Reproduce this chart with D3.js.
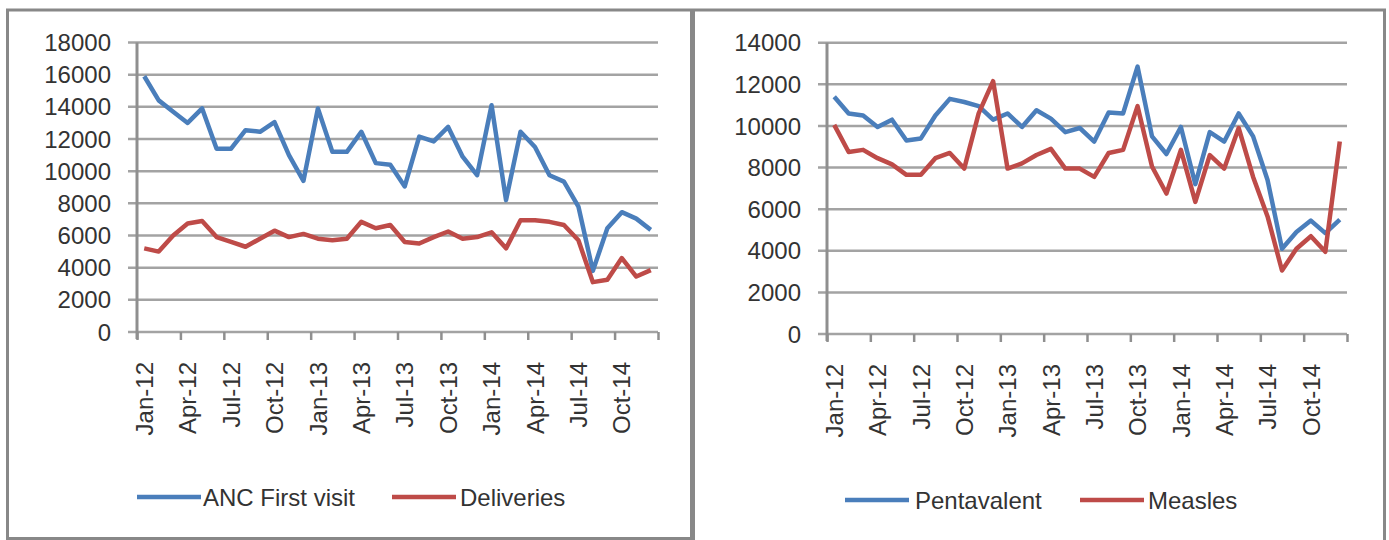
<!DOCTYPE html>
<html>
<head>
<meta charset="utf-8">
<script src="https://cdn.jsdelivr.net/npm/d3@7"></script>
<style>
  body { margin: 0; background: #fff; }
  svg { display: block; font-family: "Liberation Sans", Arial, sans-serif; }
  .grid line { stroke: #a3a3a3; stroke-width: 2.5; }
  .axis path, .axis line { stroke: #8f8f8f; stroke-width: 2.5; }
  .axis text { fill: #333; font-size: 24px; }
  .legend text { fill: #333; font-size: 24px; }
</style>
</head>
<body>
<svg width="1389" height="540"></svg>
<script>
  // months shown on both charts
  const months = ['Jan-12','Feb-12','Mar-12','Apr-12','May-12','Jun-12','Jul-12','Aug-12','Sep-12','Oct-12','Nov-12','Dec-12',
    'Jan-13','Feb-13','Mar-13','Apr-13','May-13','Jun-13','Jul-13','Aug-13','Sep-13','Oct-13','Nov-13','Dec-13',
    'Jan-14','Feb-14','Mar-14','Apr-14','May-14','Jun-14','Jul-14','Aug-14','Sep-14','Oct-14','Nov-14','Dec-14'];

  // left chart
  const ancFirstVisit = [15900,14400,13700,13000,13900,11400,11400,12550,12450,13050,11000,9400,
    13900,11200,11200,12450,10500,10400,9050,12150,11850,12750,10900,9750,
    14100,8200,12450,11500,9750,9350,7800,3800,6450,7450,7050,6350];
  const deliveries = [5200,5000,6000,6750,6900,5900,5600,5300,5800,6300,5900,6100,
    5800,5700,5800,6850,6450,6650,5600,5500,5900,6250,5800,5900,
    6200,5200,6950,6950,6850,6650,5700,3100,3250,4600,3450,3850];

  // right chart
  const pentavalent = [11400,10600,10500,9950,10300,9300,9400,10500,11300,11150,10950,10300,
    10600,9950,10750,10350,9700,9900,9250,10650,10600,12850,9500,8650,
    9950,7200,9700,9250,10600,9500,7400,4100,4900,5450,4850,5500];
  const measles = [10050,8750,8850,8450,8150,7650,7650,8450,8700,7950,10600,12150,
    7950,8200,8600,8900,7950,7950,7550,8700,8850,10950,8050,6750,
    8850,6350,8600,7950,9900,7550,5650,3050,4100,4700,3950,9250];

  const yTicks18 = [0,2000,4000,6000,8000,10000,12000,14000,16000,18000];
  const yTicks14 = [0,2000,4000,6000,8000,10000,12000,14000];

  const blue = '#4a7ebb';
  const red = '#be4b48';

  const svg = d3.select('svg');

  // panel frames
  svg.append('path')
    .attr('d', 'M7.5,540 V10 H1384.5 V540 M692.5,10 V540 M7.5,538.5 H692.5')
    .attr('fill', 'none')
    .attr('stroke', '#888')
    .attr('stroke-width', 3);
  svg.append('line')
    .attr('x1', 692.5).attr('x2', 692.5).attr('y1', 10).attr('y2', 540)
    .attr('stroke', '#888').attr('stroke-width', 5);

  drawChart({
    left: 137, right: 658, top: 42.5, bottom: 332,
    yMax: 18000, yTicks: yTicks18, labelRight: 111,
    series: [
      {name: 'ANC First visit', values: ancFirstVisit, color: blue},
      {name: 'Deliveries', values: deliveries, color: red}
    ],
    legend: [{x: 137, textX: 203}, {x: 392, textX: 460}], legendY: 497
  });

  drawChart({
    left: 827, right: 1347, top: 42.7, bottom: 334,
    yMax: 14000, yTicks: yTicks14, labelRight: 801,
    series: [
      {name: 'Pentavalent', values: pentavalent, color: blue},
      {name: 'Measles', values: measles, color: red}
    ],
    legend: [{x: 845, textX: 915}, {x: 1080, textX: 1148}], legendY: 500
  });

  function drawChart(c) {
    const x = d3.scaleLinear().domain([0, months.length]).range([c.left, c.right]);
    const y = d3.scaleLinear().domain([0, c.yMax]).range([c.bottom, c.top]);

    // gridlines (they also act as the y tick marks)
    svg.append('g')
      .attr('class', 'grid')
      .selectAll('line')
      .data(c.yTicks)
      .enter()
      .append('line')
        .attr('x1', c.left - 9)
        .attr('x2', c.right)
        .attr('y1', d => y(d))
        .attr('y2', d => y(d));

    // y labels
    svg.append('g')
      .attr('class', 'axis')
      .selectAll('text')
      .data(c.yTicks)
      .enter()
      .append('text')
        .attr('x', c.labelRight)
        .attr('y', d => y(d))
        .attr('dy', '0.36em')
        .attr('text-anchor', 'end')
        .text(d => d);

    // vertical axis line
    svg.append('line')
      .attr('x1', c.left).attr('x2', c.left)
      .attr('y1', c.top).attr('y2', c.bottom + 7)
      .attr('stroke', '#8f8f8f').attr('stroke-width', 3);

    // x axis: tick marks between every third month
    svg.append('g')
      .attr('class', 'axis')
      .attr('transform', 'translate(0,' + c.bottom + ')')
      .call(d3.axisBottom(x)
        .tickValues(d3.range(0, months.length + 1, 3))
        .tickSize(8)
        .tickFormat(''))
      .call(g => g.select('.domain').remove());

    // month labels, rotated
    svg.append('g')
      .attr('class', 'axis')
      .selectAll('text')
      .data(months.filter((m, i) => i % 3 === 0))
      .enter()
      .append('text')
        .attr('transform', d => 'translate(' + x(months.indexOf(d) + 0.5) + ',' + (c.bottom + 30) + ') rotate(-90)')
        .attr('dy', '0.36em')
        .attr('text-anchor', 'end')
        .text(d => d);

    const line = d3.line()
      .x((d, i) => x(i + 0.5))
      .y(d => y(d));

    c.series.forEach(s => {
      svg.append('path')
        .datum(s.values)
        .attr('fill', 'none')
        .attr('stroke', s.color)
        .attr('stroke-width', 4.5)
        .attr('stroke-linejoin', 'round')
        .attr('d', line);
    });

    // legend
    const lg = svg.append('g').attr('class', 'legend');
    c.series.forEach((s, i) => {
      const pos = c.legend[i];
      lg.append('line')
        .attr('x1', pos.x).attr('x2', pos.x + 64)
        .attr('y1', c.legendY).attr('y2', c.legendY)
        .attr('stroke', s.color).attr('stroke-width', 4.5);
      lg.append('text')
        .attr('x', pos.textX)
        .attr('y', c.legendY)
        .attr('dy', '0.36em')
        .text(s.name);
    });
  }
</script>
</body>
</html>
